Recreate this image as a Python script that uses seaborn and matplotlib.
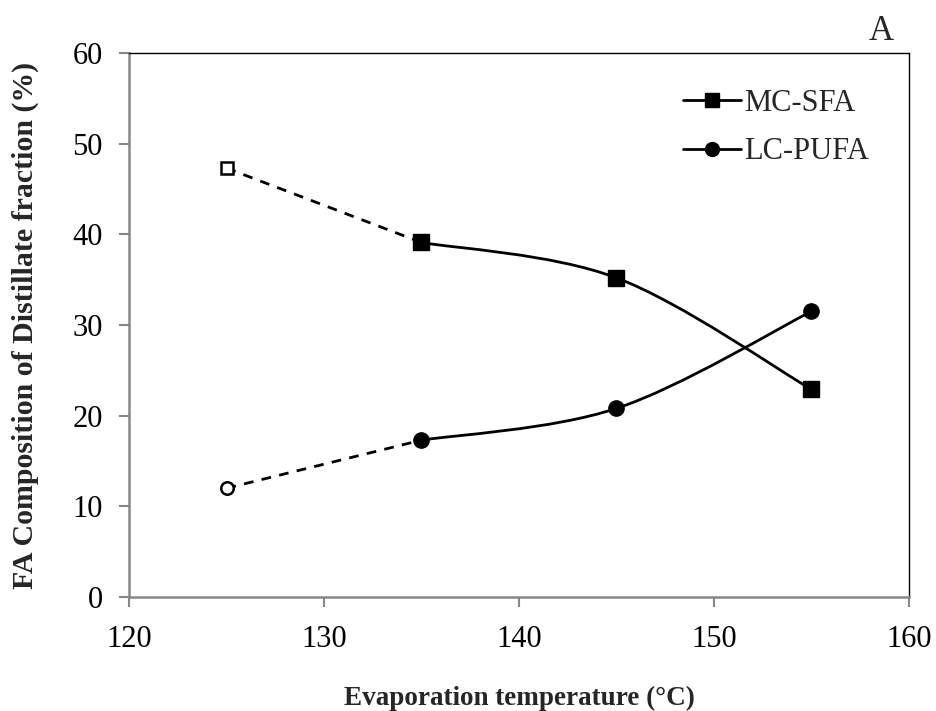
import numpy as np
import pandas as pd
import seaborn as sb
import matplotlib.pyplot as plt
from matplotlib.path import Path
from matplotlib.patches import PathPatch

# Data
temps = [125, 135, 145, 155]
mc_sfa = [47.3, 39.1, 35.2, 22.9]
lc_pufa = [12.0, 17.3, 20.8, 31.5]
x_ticks = [120, 130, 140, 150, 160]
y_ticks = [0, 10, 20, 30, 40, 50, 60]

sb.set_style('white')
plt.rcParams['font.family'] = ['Liberation Serif', 'DejaVu Serif']
FS = 22
GRAY = '#878787'

fig = plt.figure(figsize=(9.37, 7.11), dpi=100)
ax = fig.add_axes([0.1377, 0.1603, 0.8323, 0.7652])


def smooth_path(xs, ys):
    # Excel-style smoothed line: cubic Bezier with Catmull-Rom control points
    pts = np.column_stack([xs, ys]).astype(float)
    n = len(pts)
    verts = [pts[0]]
    codes = [Path.MOVETO]
    for i in range(n - 1):
        p0 = pts[i - 1] if i > 0 else pts[i]
        p1 = pts[i]
        p2 = pts[i + 1]
        p3 = pts[i + 2] if i + 2 < n else pts[i + 1]
        c1 = p1 + (p2 - p0) / 6.0
        c2 = p2 - (p3 - p1) / 6.0
        verts += [c1, c2, p2]
        codes += [Path.CURVE4] * 3
    return Path(verts, codes)


series = [('MC-SFA', mc_sfa, 's', 11), ('LC-PUFA', lc_pufa, 'o', 11)]
for name, vals, mk, ms in series:
    # dashed first segment (open marker point)
    seg = pd.DataFrame({'x': temps[:2], 'y': vals[:2]})
    sb.lineplot(data=seg, x='x', y='y', ax=ax, color='black', lw=2, linestyle=(0, (3.5, 3)), zorder=2)
    # smoothed solid part
    ax.add_patch(PathPatch(smooth_path(temps[1:], vals[1:]), fill=False, edgecolor='black', lw=2, zorder=2))
    # open marker at first point
    ax.plot(temps[0], vals[0], marker=mk, ms=9, mfc='white', mec='black', mew=1.8, ls='none', zorder=3)
    # filled markers
    ax.plot(temps[1:], vals[1:], marker=mk, ms=ms, color='black', ls='none', zorder=3)
    # legend proxy
    ax.plot([], [], color='black', lw=2, marker=mk, ms=10, label=name)

ax.set_xlim(120, 160)
ax.set_ylim(0, 60)
ax.set_xticks(x_ticks)
ax.set_yticks(y_ticks)
ax.tick_params(axis='both', bottom=True, left=True, labelsize=FS, length=7, width=1.5,
               color=GRAY, labelcolor='black', direction='out')
ax.tick_params(axis='x', pad=13)
ax.tick_params(axis='y', pad=12)
for side in ['left', 'bottom']:
    ax.spines[side].set_color(GRAY)
    ax.spines[side].set_linewidth(1.8)
for side in ['top', 'right']:
    ax.spines[side].set_color('black')
    ax.spines[side].set_linewidth(1.0)

ax.set_xlabel('Evaporation temperature (°C)', fontsize=19.5, fontweight='bold', labelpad=23)
ax.set_ylabel('FA Composition of Distillate fraction (%)', fontsize=21.5, fontweight='bold', labelpad=24)

leg = ax.legend(loc='upper left', bbox_to_anchor=(0.675, 0.985), frameon=False, fontsize=FS,
                handlelength=1.9, handletextpad=0.1, labelspacing=0.65)

fig.text(0.94, 0.955, 'A', fontsize=FS + 3, ha='center', va='center')

fig.savefig('out.png', dpi=100)
